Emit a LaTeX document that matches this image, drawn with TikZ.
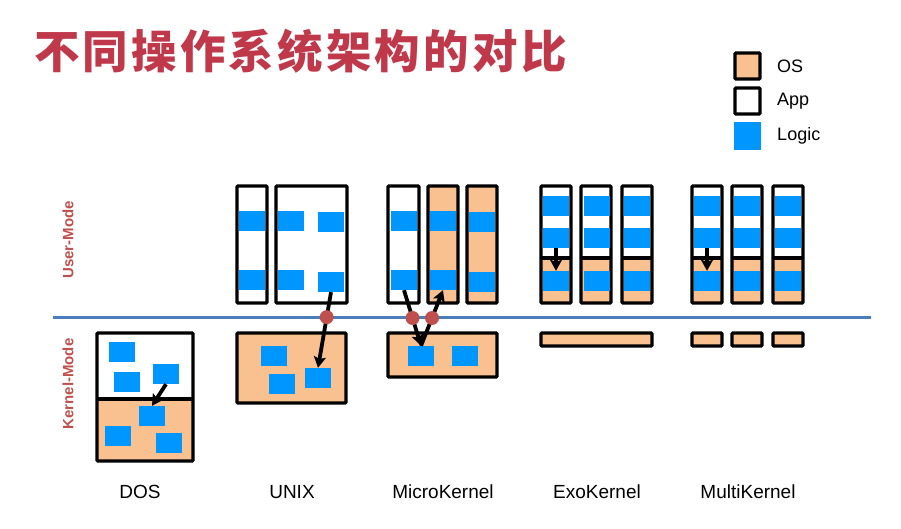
\documentclass[tikz,border=0pt]{standalone}
\usepackage{fontspec}
\setmainfont{Liberation Sans}
\newfontfamily\cjk{Noto Sans CJK SC}[LetterSpace=7]
\usepackage{xcolor}
\usepackage{tikz}
\usetikzlibrary{arrows.meta,positioning}
\definecolor{osfill}{RGB}{249,193,143}
\definecolor{logicblue}{RGB}{0,150,255}
\definecolor{modeline}{RGB}{74,126,187}
\definecolor{modered}{RGB}{192,80,77}
\definecolor{titlered}{RGB}{192,57,75}
\tikzset{
  frame/.style={draw=black, line width=3.3pt, rounded corners=1pt},
  logic/.style={fill=logicblue, minimum width=26pt, minimum height=20pt, inner sep=0pt},
  call/.style={-{Stealth[length=11pt,width=12pt,inset=2pt]}, line width=3.8pt},
  gate/.style={circle, fill=modered, minimum size=14pt, inner sep=0pt},
  arch/.style={font=\fontsize{19}{19}\selectfont},
  legend/.style={font=\fontsize{18}{18}\selectfont},
  mode/.style={text=modered, font=\bfseries\fontsize{15}{15}\selectfont, rotate=90},
}

\begin{document}
\begin{tikzpicture}[x=1pt, y=-1pt]
\useasboundingbox (0,0) rectangle (901,529);
\node[anchor=base west, inner sep=0pt, text=titlered, font=\cjk\bfseries\fontsize{45.5}{45.5}\selectfont] (title) at (34,68.5) {不同操作系统架构的对比};
% legend
\node[frame, fill=osfill, minimum width=25pt, minimum height=26pt, inner sep=0pt] (keyos) at (747.5,66) {};
\node[frame, fill=white, minimum width=25pt, minimum height=26pt, inner sep=0pt] (keyapp) at (747.5,101) {};
\node[logic, minimum width=27pt, minimum height=28pt] (keylogic) at (747.5,136) {};
\node[legend, right=12pt of keyos] (keyostext) {OS};
\node[legend, right=12pt of keyapp] (keyapptext) {App};
\node[legend, right=12.5pt of keylogic] (keylogictext) {Logic};
% user / kernel boundary
\draw[modeline, line width=3pt] (53,317) -- (871,317);
\node[mode] (user) at (68,240) {User-Mode};
\node[mode] (kernel) at (68,384) {Kernel-Mode};
% DOS
\fill[white] (97,333) rectangle (193,399);
\fill[osfill] (97,399) rectangle (193,461);
\draw[frame] (97,333) rectangle (193,461);
\draw[line width=3.3pt] (97,399) -- (193,399);
\node[logic] (dos1) at (122,352) {};
\node[logic] (dos2) at (127,382) {};
\node[logic] (dos3) at (166,374) {};
\node[logic] (dos4) at (152,416) {};
\node[logic] (dos5) at (118,436) {};
\node[logic] (dos6) at (169,443) {};
\draw[call] (dos3.south) -- (dos4.north);
% UNIX
\draw[frame, fill=white] (237,186) rectangle (267,303);
\draw[frame, fill=white] (276,186) rectangle (347,303);
\draw[frame, fill=osfill] (237,333) rectangle (346,403);
\node[logic] (unix1) at (252,221) {};
\node[logic] (unix2) at (252,280) {};
\node[logic] (unix3) at (291,221) {};
\node[logic] (unix4) at (331,222) {};
\node[logic] (unix5) at (291,280) {};
\node[logic] (unix6) at (331,282) {};
\node[logic] (unix7) at (274,356) {};
\node[logic] (unix8) at (282,384) {};
\node[logic] (unix9) at (318,378) {};
\draw[call] (unix6.south) -- node[gate, pos=0.33] (unixgate) {} (unix9.north);
% MicroKernel
\draw[frame, fill=white] (388,186) rectangle (419,303);
\draw[frame, fill=osfill] (428,186) rectangle (458,303);
\draw[frame, fill=osfill] (467,186) rectangle (497,303);
\draw[frame, fill=osfill] (388,333) rectangle (497,377);
\node[logic] (micro1) at (404,221) {};
\node[logic] (micro2) at (404,280) {};
\node[logic] (micro3) at (443,221) {};
\node[logic] (micro4) at (443,280) {};
\node[logic] (micro5) at (482,222) {};
\node[logic] (micro6) at (482,282) {};
\node[logic] (micro7) at (421,356) {};
\node[logic] (micro8) at (465,356) {};
\draw[call] (micro2.south) -- node[gate, pos=0.5] (microgatea) {} (micro7.north);
\draw[call] (micro7.north) -- node[gate, pos=0.5] (microgateb) {} (micro4.south);
% ExoKernel
\fill[white] (541,186) rectangle (571,258);
\fill[osfill] (541,258) rectangle (571,303);
\draw[frame] (541,186) rectangle (571,303);
\draw[line width=3.3pt] (541,258) -- (571,258);
\fill[white] (581,186) rectangle (611,258);
\fill[osfill] (581,258) rectangle (611,303);
\draw[frame] (581,186) rectangle (611,303);
\draw[line width=3.3pt] (581,258) -- (611,258);
\fill[white] (622,186) rectangle (652,258);
\fill[osfill] (622,258) rectangle (652,303);
\draw[frame] (622,186) rectangle (652,303);
\draw[line width=3.3pt] (622,258) -- (652,258);
\draw[frame, fill=osfill] (541,333) rectangle (652,346);
\node[logic] (exo1) at (556,206) {};
\node[logic] (exo2) at (556,238) {};
\node[logic] (exo3) at (556,281) {};
\node[logic] (exo4) at (597,206) {};
\node[logic] (exo5) at (597,238) {};
\node[logic] (exo6) at (597,281) {};
\node[logic] (exo7) at (637,206) {};
\node[logic] (exo8) at (637,238) {};
\node[logic] (exo9) at (637,281) {};
\draw[call] (exo2.south) -- (exo3.north);
% MultiKernel
\fill[white] (692,186) rectangle (722,258);
\fill[osfill] (692,258) rectangle (722,303);
\draw[frame] (692,186) rectangle (722,303);
\draw[line width=3.3pt] (692,258) -- (722,258);
\fill[white] (732,186) rectangle (762,258);
\fill[osfill] (732,258) rectangle (762,303);
\draw[frame] (732,186) rectangle (762,303);
\draw[line width=3.3pt] (732,258) -- (762,258);
\fill[white] (773,186) rectangle (803,258);
\fill[osfill] (773,258) rectangle (803,303);
\draw[frame] (773,186) rectangle (803,303);
\draw[line width=3.3pt] (773,258) -- (803,258);
\draw[frame, fill=osfill] (692,333) rectangle (722,346);
\draw[frame, fill=osfill] (732,333) rectangle (762,346);
\draw[frame, fill=osfill] (773,333) rectangle (803,346);
\node[logic] (multi1) at (707,206) {};
\node[logic] (multi2) at (707,238) {};
\node[logic] (multi3) at (707,281) {};
\node[logic] (multi4) at (747,206) {};
\node[logic] (multi5) at (747,238) {};
\node[logic] (multi6) at (747,281) {};
\node[logic] (multi7) at (788,206) {};
\node[logic] (multi8) at (788,238) {};
\node[logic] (multi9) at (788,281) {};
\draw[call] (multi2.south) -- (multi3.north);
% names
\node[arch] (dos) at (140,492) {DOS};
\node[arch] (unix) at (292,492) {UNIX};
\node[arch] (micro) at (443,492) {MicroKernel};
\node[arch] (exo) at (597,492) {ExoKernel};
\node[arch] (multi) at (748,492) {MultiKernel};
\end{tikzpicture}
\end{document}
